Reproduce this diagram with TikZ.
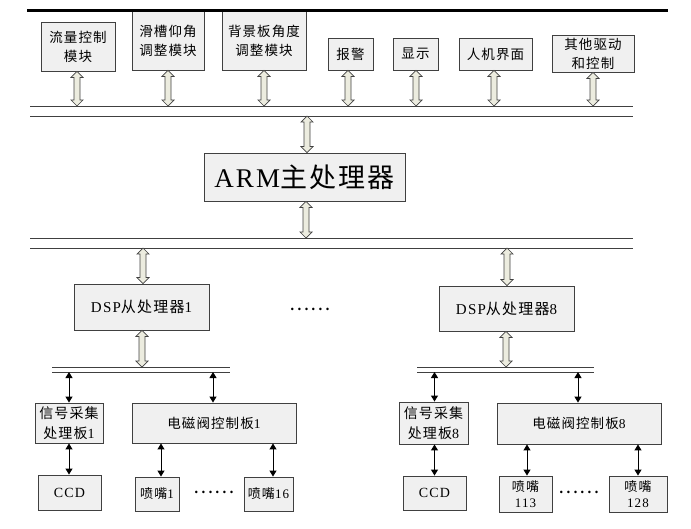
\documentclass[tikz,border=0pt]{standalone}
\usepackage{fontspec}
\setmainfont[LetterSpace=8]{Liberation Serif}
\newfontfamily\cjk[LetterSpace=8]{Noto Sans CJK SC}
\newfontfamily\cjkdots{Noto Sans CJK SC}
\newcommand\la[1]{{\rmfamily #1}}
\usetikzlibrary{calc,arrows.meta}
\definecolor{boxfill}{HTML}{F0F0F0}
\definecolor{arrfill}{HTML}{ECECDF}
\definecolor{edge}{HTML}{404040}
\tikzset{
  box/.style={draw=edge, fill=boxfill, line width=0.9pt, inner sep=0pt, align=center,
    font=\cjk\fontsize{13.5}{19}\selectfont},
  bigarrow/.style={draw=edge, fill=arrfill, line width=0.7pt, line join=miter,
    to path={let \p1=(\tikztostart), \p2=(\tikztotarget) in
      (\x1,\y1) -- (\x1+6pt,\y1-6pt) -- (\x1+3pt,\y1-6pt) -- (\x1+3pt,\y2+6pt)
      -- (\x1+6pt,\y2+6pt) -- (\x1,\y2) -- (\x1-6pt,\y2+6pt) -- (\x1-3pt,\y2+6pt)
      -- (\x1-3pt,\y1-6pt) -- (\x1-6pt,\y1-6pt) -- cycle}},
  smallarrow/.style={draw=black, line width=1pt,
    {Triangle[width=7pt,length=6pt]}-{Triangle[width=7pt,length=6pt]}},
  busline/.style={draw=edge, line width=0.9pt},
  dots/.style={font=\cjkdots\fontsize{19}{19}\selectfont, inner sep=0pt}
}
\begin{document}
\begin{tikzpicture}[x=1pt,y=-1pt]
\useasboundingbox (0,0) rectangle (691,528);
% top boxes
\node[box, minimum width=74pt, minimum height=49pt] (flow) at (78,46.5) {流量控制\\模块};
\node[box, minimum width=72pt, minimum height=59pt] (slide) at (168,40.5) {滑槽仰角\\调整模块};
\node[box, minimum width=84pt, minimum height=59pt] (bgp) at (264,40.5) {背景板角度\\调整模块};
\node[box, minimum width=45pt, minimum height=32pt] (alarm) at (350.5,54) {报警};
\node[box, minimum width=45pt, minimum height=32pt] (disp) at (415.5,54) {显示};
\node[box, minimum width=73pt, minimum height=32pt] (hmi) at (495.5,54) {人机界面};
\node[box, minimum width=82pt, minimum height=37pt] (other) at (593,53.5) {其他驱动\\和控制};
% top thick line
\coordinate (topL) at (27,10.5);
\coordinate (topR) at (668,10.5);
\draw[line width=2.2pt] (topL) -- (topR);
% bus 1
\coordinate (b1aL) at (30,106); \coordinate (b1aR) at (633,106);
\coordinate (b1bL) at (30,116); \coordinate (b1bR) at (633,116);
\draw[busline] (b1aL) -- (b1aR);
\draw[busline] (b1bL) -- (b1bR);
% ARM
\node[box, minimum width=201pt, minimum height=48pt, font=\cjk\fontsize{27}{30}\selectfont] (arm) at (304.5,177) {\la{ARM}主处理器};
% bus 2
\coordinate (b2aL) at (30,238); \coordinate (b2aR) at (633,238);
\coordinate (b2bL) at (30,248); \coordinate (b2bR) at (633,248);
\draw[busline] (b2aL) -- (b2aR);
\draw[busline] (b2bL) -- (b2bR);
% DSP
\node[box, minimum width=135pt, minimum height=46pt, font=\cjk\fontsize{15}{18}\selectfont] (dsp1) at (141.5,307) {\la{DSP}从处理器\la{1}};
\node[box, minimum width=135pt, minimum height=45pt, font=\cjk\fontsize{15}{18}\selectfont] (dsp8) at (506.5,308.5) {\la{DSP}从处理器\la{8}};
\node[dots] (dotsmid) at (310,309) {……};
% sub buses
\coordinate (s1aL) at (52,367); \coordinate (s1aR) at (230,367);
\coordinate (s1bL) at (52,372); \coordinate (s1bR) at (230,372);
\coordinate (s8aL) at (417,367); \coordinate (s8aR) at (594,367);
\coordinate (s8bL) at (417,372); \coordinate (s8bR) at (594,372);
\draw[busline] (s1aL) -- (s1aR);
\draw[busline] (s1bL) -- (s1bR);
\draw[busline] (s8aL) -- (s8aR);
\draw[busline] (s8bL) -- (s8bR);
% lower boxes group 1
\node[box, minimum width=68pt, minimum height=40pt, font=\cjk\fontsize{14}{20}\selectfont] (sig1) at (69,423) {信号采集\\处理板\la{1}};
\node[box, minimum width=164pt, minimum height=40pt, font=\cjk\fontsize{13.5}{16}\selectfont] (valve1) at (214,423) {电磁阀控制板\la{1}};
\node[box, minimum width=63pt, minimum height=35pt, font=\rmfamily\fontsize{14}{16}\selectfont] (ccd1) at (69.5,492.5) {CCD};
\node[box, minimum width=44pt, minimum height=34pt, font=\cjk\fontsize{13}{16}\selectfont] (noz1) at (157,494) {喷嘴\la{1}};
\node[box, minimum width=49pt, minimum height=34pt, font=\cjk\fontsize{13}{16}\selectfont] (noz16) at (268.5,494) {喷嘴\la{16}};
\node[dots] (dots1) at (214,492) {……};
% lower boxes group 8
\node[box, minimum width=69pt, minimum height=42pt, font=\cjk\fontsize{14}{20}\selectfont] (sig8) at (433.5,423) {信号采集\\处理板\la{8}};
\node[box, minimum width=164pt, minimum height=41pt, font=\cjk\fontsize{13.5}{16}\selectfont] (valve8) at (579,423.5) {电磁阀控制板\la{8}};
\node[box, minimum width=63pt, minimum height=34pt, font=\rmfamily\fontsize{14}{16}\selectfont] (ccd8) at (434.5,493) {CCD};
\node[box, minimum width=53pt, minimum height=36pt, font=\cjk\fontsize{13}{15.5}\selectfont] (noz113) at (525.5,494) {喷嘴\\\la{113}};
\node[box, minimum width=58pt, minimum height=36pt, font=\cjk\fontsize{13}{15.5}\selectfont] (noz128) at (638,494) {喷嘴\\\la{128}};
\node[dots] (dots8) at (579,492) {……};
% big double arrows (top)
\coordinate (xa) at (77,0); \coordinate (xb) at (168,0); \coordinate (xc) at (264,0);
\coordinate (xd) at (348,0); \coordinate (xe) at (416,0); \coordinate (xf) at (494,0);
\coordinate (xg) at (593,0); \coordinate (xarm) at (307,0); \coordinate (xarm2) at (306,0);
\draw[bigarrow] (flow.south -| xa) to (b1aL -| xa);
\draw[bigarrow] (slide.south -| xb) to (b1aL -| xb);
\draw[bigarrow] (bgp.south -| xc) to (b1aL -| xc);
\draw[bigarrow] (alarm.south -| xd) to (b1aL -| xd);
\draw[bigarrow] (disp.south -| xe) to (b1aL -| xe);
\draw[bigarrow] (hmi.south -| xf) to (b1aL -| xf);
\draw[bigarrow] (other.south -| xg) to (b1aL -| xg);
\draw[bigarrow] (b1bL -| xarm) to (arm.north -| xarm);
\draw[bigarrow] (arm.south -| xarm2) to (b2aL -| xarm2);
\coordinate (xd1) at (143,0); \coordinate (xd8) at (507,0);
\coordinate (xd1b) at (142,0); \coordinate (xd8b) at (506,0);
\draw[bigarrow] (b2bL -| xd1) to (dsp1.north -| xd1);
\draw[bigarrow] (b2bL -| xd8) to (dsp8.north -| xd8);
\draw[bigarrow] (dsp1.south -| xd1b) to (s1aL -| xd1b);
\draw[bigarrow] (dsp8.south -| xd8b) to (s8aL -| xd8b);
% small arrows
\draw[smallarrow] (s1bL -| sig1) -- (sig1.north);
\coordinate (xv1) at (213,0); \coordinate (xv8) at (578,0);
\draw[smallarrow] (s1bL -| xv1) -- (valve1.north -| xv1);
\draw[smallarrow] (sig1.south) -- (ccd1.north -| sig1);
\coordinate (xn1) at (161,0); \coordinate (xn16) at (273,0);
\draw[smallarrow] (valve1.south -| xn1) -- (noz1.north -| xn1);
\draw[smallarrow] (valve1.south -| xn16) -- (noz16.north -| xn16);
\coordinate (xs8) at (434.5,0);
\draw[smallarrow] (s8bL -| xs8) -- (sig8.north -| xs8);
\draw[smallarrow] (s8bL -| xv8) -- (valve8.north -| xv8);
\draw[smallarrow] (sig8.south -| xs8) -- (ccd8.north -| xs8);
\coordinate (xn113) at (527,0); \coordinate (xn128) at (638,0);
\draw[smallarrow] (valve8.south -| xn113) -- (noz113.north -| xn113);
\draw[smallarrow] (valve8.south -| xn128) -- (noz128.north -| xn128);
\end{tikzpicture}
\end{document}
